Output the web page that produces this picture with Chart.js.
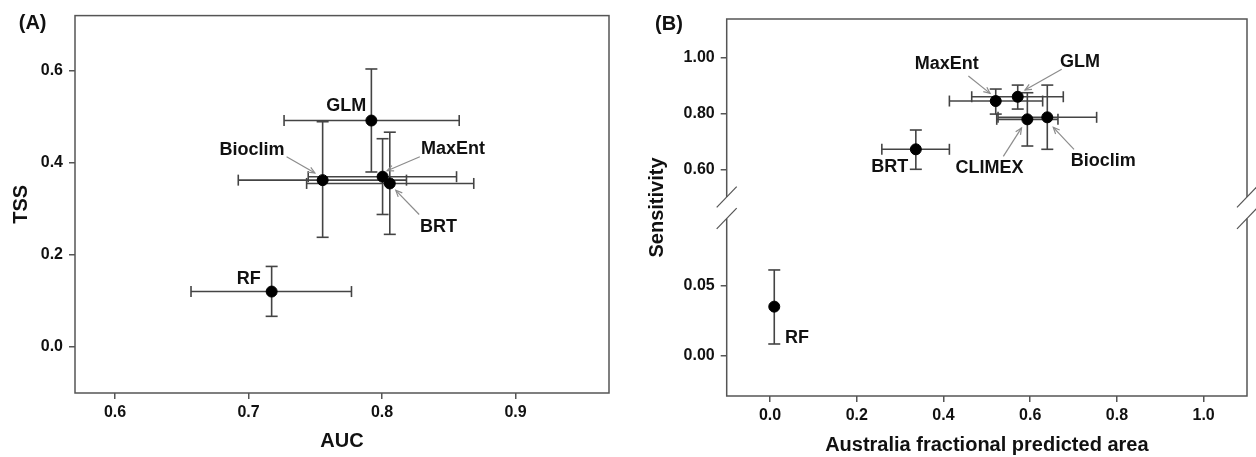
<!DOCTYPE html>
<html><head><meta charset="utf-8">
<script src="https://cdn.jsdelivr.net/npm/chart.js@4.4.0/dist/chart.umd.min.js"></script>
<style>
html,body{margin:0;padding:0;background:#fff;}
#wrap{position:relative;width:1256px;height:457px;overflow:hidden;}
.c{position:absolute;top:0;height:457px;width:628px;}
</style></head><body>
<div id="wrap">
<div class="c" style="left:0"><canvas id="chartA"></canvas></div>
<div class="c" style="left:628px"><canvas id="chartB"></canvas></div>
</div>
<script>
// ---------- Panel A data ----------
const modelsA = ['GLM', 'Bioclim', 'MaxEnt', 'BRT', 'RF'];
const aucA    = [0.792, 0.7555, 0.8004, 0.8058, 0.7173];
const aucLoA  = [0.7266, 0.6923, 0.7447, 0.7435, 0.6569];
const aucHiA  = [0.8578, 0.8183, 0.8558, 0.8687, 0.7771];
const tssA    = [0.492, 0.3625, 0.370, 0.3553, 0.1204];
const tssLoA  = [0.3802, 0.2383, 0.2879, 0.2447, 0.0666];
const tssHiA  = [0.604, 0.4894, 0.4525, 0.4667, 0.175];
const xTicksA = [0.6, 0.7, 0.8, 0.9];
const yTicksA = [0.0, 0.2, 0.4, 0.6];
// label anchors (data units)
const labelXA = [0.7732, 0.7025, 0.8532, 0.8422, 0.7001];
const labelYA = [0.5242, 0.4272, 0.4307, 0.2607, 0.1467];
// arrows (data units): from -> to, null = no arrow
const arrFromXA = [null, 0.7285, 0.8283, 0.8278, null];
const arrFromYA = [null, 0.4134, 0.4134, 0.2879, null];
const arrToXA   = [null, 0.7497, 0.8038, 0.8103, null];
const arrToYA   = [null, 0.3781, 0.383, 0.3404, null];

// ---------- Panel B data ----------
const modelsB = ['MaxEnt', 'GLM', 'CLIMEX', 'Bioclim', 'BRT', 'RF'];
const areaB   = [0.5205, 0.5712, 0.5934, 0.6394, 0.3362, 0.0097];
const areaLoB = [0.4136, 0.4651, 0.5228, 0.5258, 0.2578, null];
const areaHiB = [0.6287, 0.6763, 0.664, 0.7532, 0.4136, null];
const sensB   = [0.8448, 0.8602, 0.7792, 0.7864, 0.6717, 0.0352];
const sensLoB = [0.798, 0.816, 0.6835, 0.6717, 0.600, 0.0084];
const sensHiB = [0.8878, 0.902, 0.8746, 0.902, 0.7409, 0.0615];
const xTicksB = [0.0, 0.2, 0.4, 0.6, 0.8, 1.0];
const yTicksUpperB = [0.60, 0.80, 1.00];
const yTicksLowerB = [0.00, 0.05];
const labelXB = [0.4076, 0.7147, 0.5062, 0.7687, 0.2763, 0.062];
const labelYB = [0.9774, 0.9857, 0.6057, 0.630, 0.6093, 0.0125];
const arrFromXB = [0.4574, 0.6726, 0.538, 0.701, null, null];
const arrFromYB = [0.9344, 0.9589, 0.6466, 0.6717, null, null];
const arrToXB   = [0.5074, 0.588, 0.580, 0.6532, null, null];
const arrToYB   = [0.8722, 0.8842, 0.7484, 0.7505, null, null];

// ---------- styles ----------
const FONT = "'Liberation Sans', Arial, sans-serif";
const ERR = '#444444';
const FRAME = '#555555';
const TXT = '#111111';
const ARROW = '#8c8c8c';

function errorSets(xs, ys, xlo, xhi, ylo, yhi, axisFor) {
  const out = [];
  xs.forEach((x, i) => {
    const yid = axisFor(i);
    const common = {showLine: true, borderColor: ERR, borderWidth: 1.6, pointStyle: 'line',
      pointBorderColor: ERR, pointBorderWidth: 1.6, yAxisID: yid, order: 2, clip: false};
    if (xlo[i] != null) out.push(Object.assign({}, common, {
      data: [{x: xlo[i], y: ys[i]}, {x: xhi[i], y: ys[i]}], pointRadius: 5.5, pointHoverRadius: 5.5, pointRotation: 90}));
    if (ylo[i] != null) out.push(Object.assign({}, common, {
      data: [{x: x, y: ylo[i]}, {x: x, y: yhi[i]}], pointRadius: 6, pointHoverRadius: 6, pointRotation: 0}));
  });
  return out;
}
function pointSet(xs, ys, idx, yid) {
  return {data: idx.map(i => ({x: xs[i], y: ys[i]})), showLine: false, pointRadius: 5.5, pointHoverRadius: 5.5,
    pointBackgroundColor: '#000', pointBorderColor: '#000', pointBorderWidth: 1, yAxisID: yid, order: 0, clip: false};
}
function drawArrow(ctx, x1, y1, x2, y2) {
  ctx.beginPath(); ctx.moveTo(x1, y1); ctx.lineTo(x2, y2); ctx.stroke();
  const a = Math.atan2(y2 - y1, x2 - x1), L = 7, w = 0.42;
  ctx.beginPath();
  ctx.moveTo(x2 - L * Math.cos(a - w), y2 - L * Math.sin(a - w));
  ctx.lineTo(x2, y2);
  ctx.lineTo(x2 - L * Math.cos(a + w), y2 - L * Math.sin(a + w));
  ctx.stroke();
}
function tickGrid() {
  return {display: true, drawOnChartArea: false, drawTicks: true, tickLength: 6, color: FRAME, lineWidth: 1.5};
}
const tickFont = {family: FONT, size: 16, weight: 'bold'};
const titleFont = {family: FONT, size: 20, weight: 'bold'};
const labelFont = 'bold 18px ' + FONT;

function annotate(chart, models, lx, ly, fx, fy, tx, ty, axisFor, panel) {
  const ctx = chart.ctx, xs = chart.scales.x;
  ctx.save();
  ctx.strokeStyle = ARROW; ctx.lineWidth = 1.2;
  models.forEach((m, i) => {
    if (fx[i] == null) return;
    const ys = chart.scales[axisFor(i)];
    drawArrow(ctx, xs.getPixelForValue(fx[i]), ys.getPixelForValue(fy[i]), xs.getPixelForValue(tx[i]), ys.getPixelForValue(ty[i]));
  });
  ctx.fillStyle = TXT; ctx.font = labelFont; ctx.textAlign = 'center'; ctx.textBaseline = 'middle';
  models.forEach((m, i) => {
    const ys = chart.scales[axisFor(i)];
    ctx.fillText(m, xs.getPixelForValue(lx[i]), ys.getPixelForValue(ly[i]));
  });
  ctx.font = 'bold 20px ' + FONT; ctx.textAlign = 'center';
  ctx.fillText(panel.text, panel.x, panel.y);
  ctx.restore();
}

// ---------- Chart A ----------
const axisA = () => 'y';
const dsA = [pointSet(aucA, tssA, modelsA.map((m, i) => i), 'y')].concat(
  errorSets(aucA, tssA, aucLoA, aucHiA, tssLoA, tssHiA, axisA));

new Chart(document.getElementById('chartA'), {
  type: 'scatter',
  data: {datasets: dsA},
  options: {
    responsive: true, maintainAspectRatio: false, animation: false,
    layout: {padding: {left: 0, top: 9, right: 19, bottom: 0}},
    plugins: {legend: {display: false}, tooltip: {enabled: false}},
    scales: {
      x: {type: 'linear', min: 0.57, max: 0.97, border: {display: false}, grid: tickGrid(),
        afterBuildTicks: s => { s.ticks = xTicksA.map(v => ({value: v})); },
        afterFit: s => { s.height = 64; },
        ticks: {font: tickFont, color: TXT, padding: 4, maxRotation: 0, callback: v => Number(v).toFixed(1)},
        title: {display: true, text: 'AUC', font: titleFont, color: TXT, padding: {top: 0, bottom: 4}}},
      y: {type: 'linear', min: -0.1, max: 0.72, border: {display: false}, grid: tickGrid(),
        afterBuildTicks: s => { s.ticks = yTicksA.map(v => ({value: v})); },
        afterFit: s => { s.width = 75; },
        ticks: {font: tickFont, color: TXT, padding: 6, callback: v => Number(v).toFixed(1)},
        title: {display: true, text: 'TSS', font: titleFont, color: TXT, padding: {top: 9, bottom: 0}}}
    }
  },
  plugins: [{
    id: 'frameA',
    afterDraw(chart) {
      const {ctx, chartArea: a} = chart;
      ctx.save(); ctx.strokeStyle = FRAME; ctx.lineWidth = 1.5;
      ctx.strokeRect(a.left, a.top, a.right - a.left, a.bottom - a.top);
      ctx.restore();
      annotate(chart, modelsA, labelXA, labelYA, arrFromXA, arrFromYA, arrToXA, arrToYA, axisA, {text: '(A)', x: 32.6, y: 23.5});
    }
  }]
});

// ---------- Chart B ----------
const axisB = i => (sensB[i] < 0.3 ? 'yL' : 'yU');
const upperIdx = modelsB.map((m, i) => i).filter(i => axisB(i) === 'yU');
const lowerIdx = modelsB.map((m, i) => i).filter(i => axisB(i) === 'yL');
const dsB = [pointSet(areaB, sensB, upperIdx, 'yU'), pointSet(areaB, sensB, lowerIdx, 'yL')].concat(
  errorSets(areaB, sensB, areaLoB, areaHiB, sensLoB, sensHiB, axisB));

new Chart(document.getElementById('chartB'), {
  type: 'scatter',
  data: {datasets: dsB},
  options: {
    responsive: true, maintainAspectRatio: false, animation: false,
    layout: {padding: {left: 0, top: 19, right: 9, bottom: 0}},
    plugins: {legend: {display: false}, tooltip: {enabled: false}},
    scales: {
      x: {type: 'linear', min: -0.1, max: 1.1, border: {display: false}, grid: tickGrid(),
        afterBuildTicks: s => { s.ticks = xTicksB.map(v => ({value: v})); },
        afterFit: s => { s.height = 61; },
        ticks: {font: tickFont, color: TXT, padding: 4, maxRotation: 0, callback: v => Number(v).toFixed(1)},
        title: {display: true, text: 'Australia fractional predicted area', font: titleFont, color: TXT, padding: {top: 0, bottom: 0}}},
      yL: {type: 'linear', position: 'left', stack: 'sens', stackWeight: 1, weight: 0,
        min: -0.0289, max: 0.1063, border: {display: false}, grid: tickGrid(),
        afterBuildTicks: s => { s.ticks = yTicksLowerB.map(v => ({value: v})); },
        afterFit: s => { s.width = 98.7; },
        ticks: {font: tickFont, color: TXT, padding: 6, callback: v => Number(v).toFixed(2)}},
      yU: {type: 'linear', position: 'left', stack: 'sens', stackWeight: 1, weight: 1,
        min: 0.463, max: 1.139, border: {display: false}, grid: tickGrid(),
        afterBuildTicks: s => { s.ticks = yTicksUpperB.map(v => ({value: v})); },
        afterFit: s => { s.width = 98.7; },
        ticks: {font: tickFont, color: TXT, padding: 6, callback: v => Number(v).toFixed(2)}}
    }
  },
  plugins: [{
    id: 'frameB',
    afterDraw(chart) {
      const {ctx, chartArea: a} = chart;
      const yb = chart.scales.yU.bottom;
      const g1 = yb - 10.5, g2 = yb + 11;
      ctx.save(); ctx.strokeStyle = FRAME; ctx.lineWidth = 1.5;
      ctx.beginPath();
      ctx.moveTo(a.left, g1); ctx.lineTo(a.left, a.top); ctx.lineTo(a.right, a.top); ctx.lineTo(a.right, g1);
      ctx.moveTo(a.left, g2); ctx.lineTo(a.left, a.bottom); ctx.lineTo(a.right, a.bottom); ctx.lineTo(a.right, g2);
      ctx.stroke();
      ctx.lineWidth = 1.2;
      [a.left, a.right].forEach(x => {
        [g1, g2].forEach(c => {
          ctx.beginPath(); ctx.moveTo(x - 10, c + 10.3); ctx.lineTo(x + 10, c - 10.3); ctx.stroke();
        });
      });
      ctx.restore();
      // y title spanning both stacked scales
      ctx.save();
      ctx.fillStyle = TXT; ctx.font = 'bold 20px ' + FONT; ctx.textAlign = 'center'; ctx.textBaseline = 'middle';
      ctx.translate(29.6, (a.top + a.bottom) / 2); ctx.rotate(-Math.PI / 2);
      ctx.fillText('Sensitivity', 0, 0);
      ctx.restore();
      annotate(chart, modelsB, labelXB, labelYB, arrFromXB, arrFromYB, arrToXB, arrToYB, axisB, {text: '(B)', x: 41, y: 24});
    }
  }]
});
</script>
</body></html>
